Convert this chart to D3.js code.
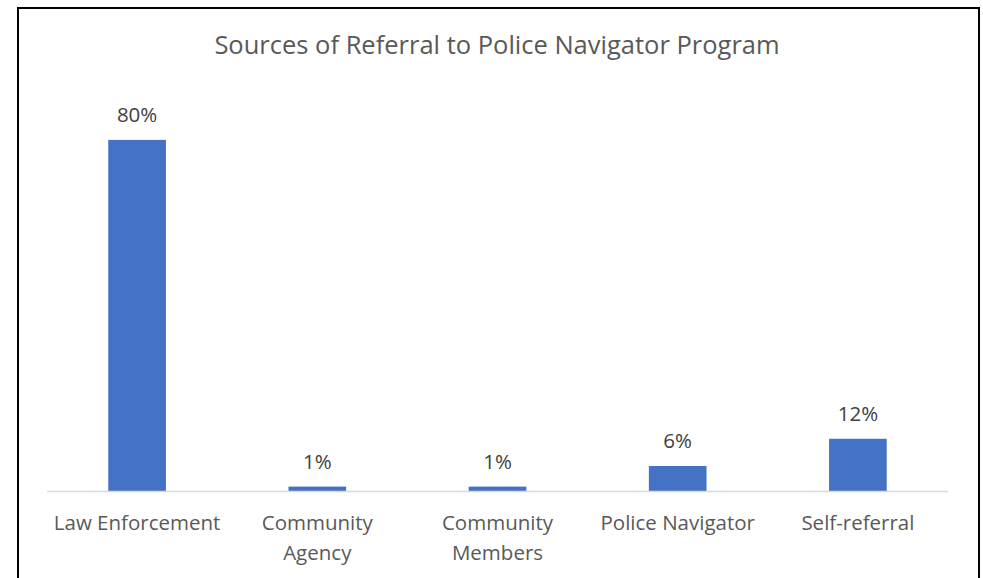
<!DOCTYPE html>
<html>
<head>
    <meta charset="utf-8">
    <title>Sources of Referral to Police Navigator Program</title>
    <script src="https://d3js.org/d3.v7.min.js"></script>
    <style>
        body { margin: 0; background: #fff; }
        svg { display: block; font-family: "Open Sans", sans-serif; }
    </style>
</head>
<body>
    <svg width="983" height="578"></svg>
    <script>
        // chart data
        var categories = ["Law Enforcement", "Community Agency", "Community Members", "Police Navigator", "Self-referral"];
        var tickLines = [["Law Enforcement"], ["Community", "Agency"], ["Community", "Members"], ["Police Navigator"], ["Self-referral"]];
        var values = [80, 1, 1, 5.7, 11.9];
        var valueLabels = ["80%", "1%", "1%", "6%", "12%"];

        var svg = d3.select("svg");

        // outer frame
        svg.append("rect")
            .attr("x", 18).attr("y", 8)
            .attr("width", 961).attr("height", 580)
            .attr("fill", "#fff")
            .attr("stroke", "#000")
            .attr("stroke-width", 2);

        svg.append("text")
            .attr("x", 497).attr("y", 54)
            .attr("text-anchor", "middle")
            .attr("font-size", 25.5)
            .attr("fill", "#595959")
            .text("Sources of Referral to Police Navigator Program");

        var x = d3.scaleBand()
            .domain(categories)
            .range([47, 948])
            .paddingInner(0.68)
            .paddingOuter(0.34);

        var y = d3.scaleLinear()
            .domain([0, 90])
            .range([491, 96]);

        svg.append("g")
            .selectAll("rect")
            .data(categories)
            .enter().append("rect")
            .attr("x", function(d) { return x(d); })
            .attr("y", function(d, i) { return y(values[i]); })
            .attr("width", x.bandwidth())
            .attr("height", function(d, i) { return y(0) - y(values[i]); })
            .attr("fill", "#4472C4");

        // baseline
        svg.append("line")
            .attr("x1", 47).attr("x2", 948)
            .attr("y1", y(0) + 0.5).attr("y2", y(0) + 0.5)
            .attr("stroke", "#d9d9d9")
            .attr("stroke-width", 1.5);

        // value labels
        svg.append("g")
            .selectAll("text")
            .data(categories)
            .enter().append("text")
            .attr("x", function(d) { return x(d) + x.bandwidth() / 2; })
            .attr("y", function(d, i) { return y(values[i]) - 18; })
            .attr("text-anchor", "middle")
            .attr("font-size", 20.5)
            .attr("fill", "#404040")
            .text(function(d, i) { return valueLabels[i]; });

        // category labels
        var ticks = svg.append("g")
            .selectAll("text")
            .data(categories)
            .enter().append("text")
            .attr("x", function(d) { return x(d) + x.bandwidth() / 2; })
            .attr("y", 530)
            .attr("text-anchor", "middle")
            .attr("font-size", 20.5)
            .attr("fill", "#595959");

        ticks.each(function(d, i) {
            var t = d3.select(this);
            tickLines[i].forEach(function(line, j) {
                t.append("tspan")
                    .attr("x", x(d) + x.bandwidth() / 2)
                    .attr("dy", j === 0 ? 0 : 30)
                    .text(line);
            });
        });
    </script>
</body>
</html>
